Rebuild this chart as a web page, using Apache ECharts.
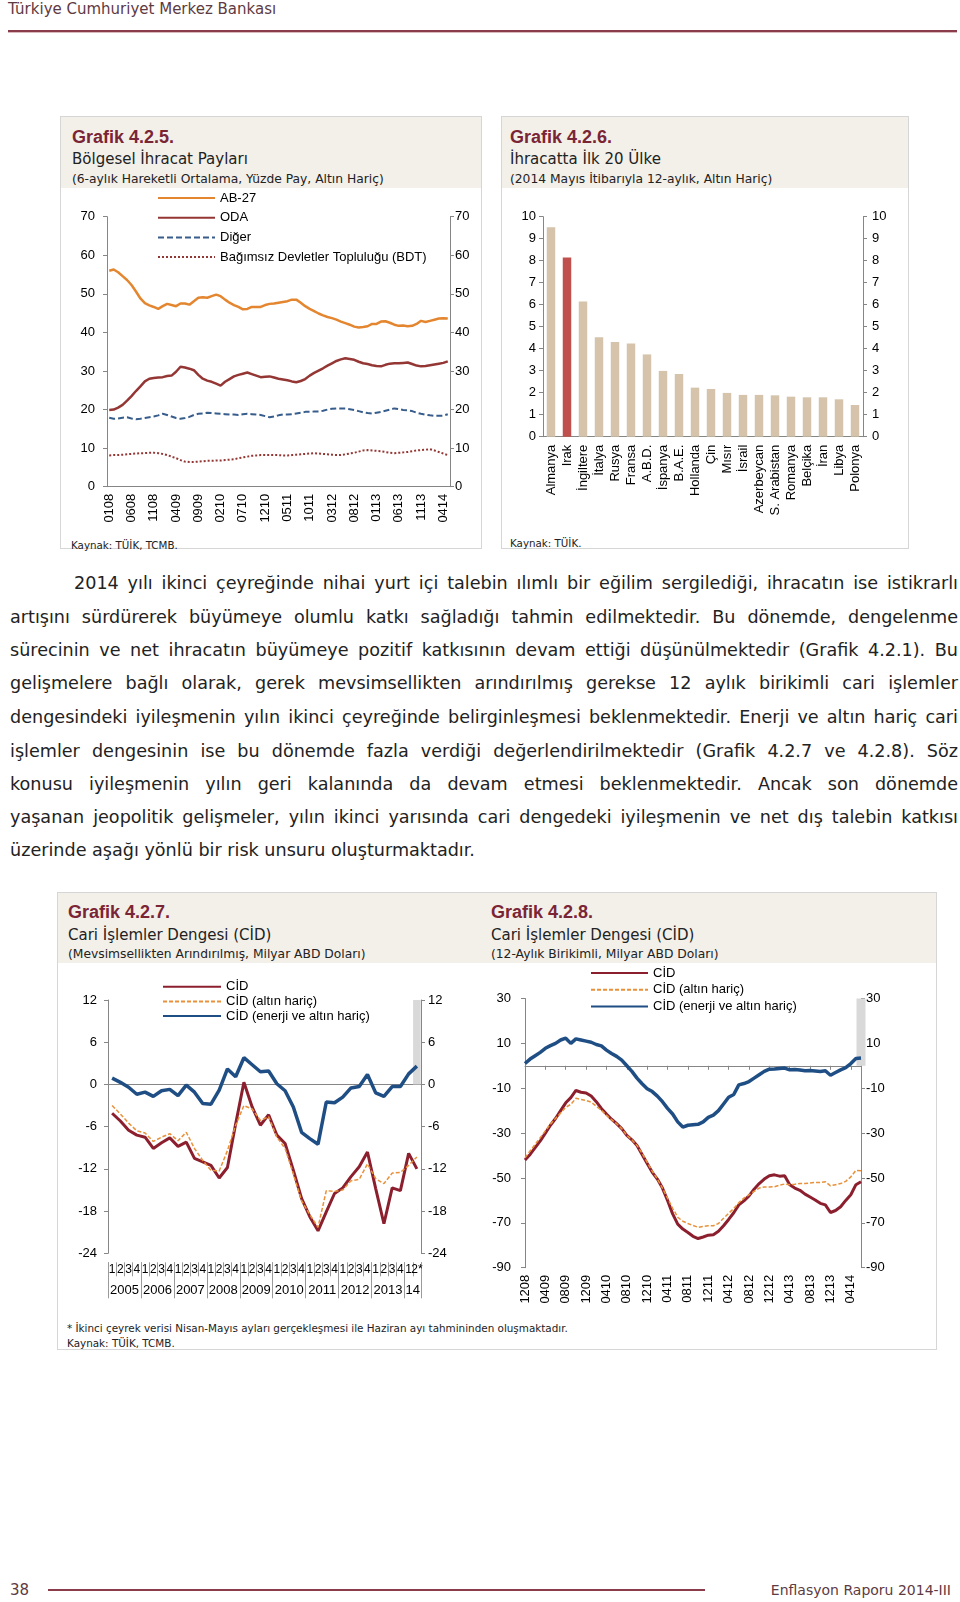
<!DOCTYPE html>
<html><head><meta charset="utf-8">
<script src="https://cdn.jsdelivr.net/npm/echarts@6/dist/echarts.min.js"></script>
<style>
html,body{margin:0;padding:0;background:#fff;}
#page{position:relative;width:960px;height:1602px;overflow:hidden;font-family:"DejaVu Sans",sans-serif;color:#222;}
.abs{position:absolute;white-space:nowrap;}
.box{position:absolute;border:1px solid #d6d6d6;box-sizing:border-box;}
.boxhead{position:absolute;left:0;top:0;right:0;background:#f3f0ea;}
.gt{font-family:"Liberation Sans",Arial,sans-serif;font-weight:bold;font-size:18px;color:#7a2535;line-height:22px;}
.st{font-size:15px;line-height:18px;color:#222;}
.sst{font-size:12.3px;line-height:16px;color:#222;}
.src{font-size:10.3px;line-height:14px;color:#222;}
.fn{font-size:10.4px;line-height:14px;color:#222;}
.para{position:absolute;font-size:17.6px;line-height:24px;color:#222;text-align:justify;text-align-last:justify;white-space:normal;}
.hdr{font-size:15px;line-height:18px;color:#5e3a42;}
#chart{position:absolute;left:0;top:0;width:960px;height:1602px;z-index:5;}
</style></head>
<body>
<div id="page">
  <div class="abs hdr" style="left:8px;top:0px;">Türkiye Cumhuriyet Merkez Bankası</div>
  <div class="abs" style="left:8px;top:30px;width:949px;height:2px;background:#8b3c4b;"></div>
  <div class="abs" style="left:8px;top:32px;width:949px;height:1px;background:#d9b9be;"></div>

  <div class="box" style="left:60px;top:116px;width:422px;height:433px;"><div class="boxhead" style="height:71px;"></div></div>
  <div class="box" style="left:501px;top:116px;width:408px;height:433px;"><div class="boxhead" style="height:71px;"></div></div>

  <div class="abs gt" style="left:72px;top:126px;">Grafik 4.2.5.</div>
  <div class="abs st" style="left:72px;top:150px;">Bölgesel İhracat Payları</div>
  <div class="abs sst" style="left:72px;top:171px;">(6-aylık Hareketli Ortalama, Yüzde Pay, Altın Hariç)</div>
  <div class="abs src" style="left:71px;top:538px;">Kaynak: TÜİK, TCMB.</div>

  <div class="abs gt" style="left:510px;top:126px;">Grafik 4.2.6.</div>
  <div class="abs st" style="left:510px;top:150px;">İhracatta İlk 20 Ülke</div>
  <div class="abs sst" style="left:510px;top:171px;">(2014 Mayıs İtibarıyla 12-aylık, Altın Hariç)</div>
  <div class="abs src" style="left:510px;top:536px;">Kaynak: TÜİK.</div>

  <div class="para" style="left:74px;top:571px;width:884px;">2014 yılı ikinci çeyreğinde nihai yurt içi talebin ılımlı bir eğilim sergilediği, ihracatın ise istikrarlı</div>
  <div class="para" style="left:10px;top:605px;width:948px;">artışını sürdürerek büyümeye olumlu katkı sağladığı tahmin edilmektedir. Bu dönemde, dengelenme</div>
  <div class="para" style="left:10px;top:638px;width:948px;">sürecinin ve net ihracatın büyümeye pozitif katkısının devam ettiği düşünülmektedir (Grafik 4.2.1). Bu</div>
  <div class="para" style="left:10px;top:671px;width:948px;">gelişmelere bağlı olarak, gerek mevsimsellikten arındırılmış gerekse 12 aylık birikimli cari işlemler</div>
  <div class="para" style="left:10px;top:705px;width:948px;">dengesindeki iyileşmenin yılın ikinci çeyreğinde belirginleşmesi beklenmektedir. Enerji ve altın hariç cari</div>
  <div class="para" style="left:10px;top:739px;width:948px;">işlemler dengesinin ise bu dönemde fazla verdiği değerlendirilmektedir (Grafik 4.2.7 ve 4.2.8). Söz</div>
  <div class="para" style="left:10px;top:772px;width:948px;">konusu iyileşmenin yılın geri kalanında da devam etmesi beklenmektedir. Ancak son dönemde</div>
  <div class="para" style="left:10px;top:805px;width:948px;">yaşanan jeopolitik gelişmeler, yılın ikinci yarısında cari dengedeki iyileşmenin ve net dış talebin katkısı</div>
  <div class="para" style="left:10px;top:838px;width:948px;text-align:left;text-align-last:left;">üzerinde aşağı yönlü bir risk unsuru oluşturmaktadır.</div>

  <div class="box" style="left:57px;top:892px;width:880px;height:458px;"><div class="boxhead" style="height:70px;"></div></div>
  <div class="abs gt" style="left:68px;top:901px;">Grafik 4.2.7.</div>
  <div class="abs st" style="left:68px;top:926px;">Cari İşlemler Dengesi (CİD)</div>
  <div class="abs sst" style="left:68px;top:946px;">(Mevsimsellikten Arındırılmış, Milyar ABD Doları)</div>
  <div class="abs gt" style="left:491px;top:901px;">Grafik 4.2.8.</div>
  <div class="abs st" style="left:491px;top:926px;">Cari İşlemler Dengesi (CİD)</div>
  <div class="abs sst" style="left:491px;top:946px;">(12-Aylık Birikimli, Milyar ABD Doları)</div>
  <div class="abs fn" style="left:67px;top:1321px;">* İkinci çeyrek verisi Nisan-Mayıs ayları gerçekleşmesi ile Haziran ayı tahmininden oluşmaktadır.</div>
  <div class="abs fn" style="left:67px;top:1336px;">Kaynak: TÜİK, TCMB.</div>

  <div class="abs hdr" style="left:10px;top:1581px;">38</div>
  <div class="abs" style="left:48px;top:1589px;width:657px;height:2px;background:#8b3c4b;"></div>
  <div class="abs hdr" style="right:9px;top:1581px;font-size:14px;">Enflasyon Raporu 2014-III</div>

  <div id="chart"></div>
</div>
<script>
// ---------- Grafik 4.2.5 ----------
const cat425 = "0108 0208 0308 0408 0508 0608 0708 0808 0908 1008 1108 1208 0109 0209 0309 0409 0509 0609 0709 0809 0909 1009 1109 1209 0110 0210 0310 0410 0510 0610 0710 0810 0910 1010 1110 1210 0111 0211 0311 0411 0511 0611 0711 0811 0911 1011 1111 1211 0112 0212 0312 0412 0512 0612 0712 0812 0912 1012 1112 1212 0113 0213 0313 0413 0513 0613 0713 0813 0913 1013 1113 1213 0114 0214 0314 0414 0514".split(" ");
const ab27 = [56.0,56.3,55.6,54.6,53.6,52.3,50.6,48.8,47.6,47.0,
46.6,46.1,46.8,47.4,47.1,46.8,47.5,47.5,47.2,48.1,
49.0,49.1,49.0,49.4,49.8,49.4,48.5,47.7,47.1,46.6,
46.0,46.1,46.6,46.6,46.6,47.1,47.4,47.5,47.7,47.9,
48.1,48.5,48.5,47.7,46.8,46.1,45.5,44.9,44.4,44.0,
43.7,43.3,42.8,42.4,42.0,41.5,41.3,41.4,41.6,42.2,
42.2,42.8,42.9,42.5,42.0,41.7,41.8,41.6,41.7,42.2,
43.0,42.7,43.0,43.3,43.6,43.7,43.6];
const oda = [19.9,20.0,20.5,21.2,22.3,23.5,24.8,26.0,27.3,28.0,
28.2,28.3,28.4,28.7,28.8,29.8,31.1,30.9,30.6,30.2,
29.0,28.0,27.5,27.2,26.7,26.2,27.2,27.9,28.6,29.0,
29.3,29.6,29.2,28.8,28.4,28.5,28.6,28.3,28.0,27.8,
27.6,27.3,27.1,27.4,27.9,28.8,29.5,30.1,30.7,31.4,
32.0,32.6,33.0,33.3,33.1,32.9,32.4,32.0,31.8,31.5,
31.3,31.2,31.6,31.9,32.0,32.0,32.1,32.2,31.8,31.4,
31.2,31.3,31.5,31.7,31.9,32.1,32.5];
const diger = [17.9,17.6,17.7,17.9,18.0,17.7,17.5,17.6,17.8,18.0,
18.2,18.5,18.9,18.6,18.2,17.8,17.6,17.8,18.1,18.6,
18.9,19.0,19.2,19.1,19.0,18.9,18.8,18.7,18.7,18.6,
18.8,18.9,18.8,18.7,18.6,18.3,18.0,18.2,18.5,18.7,
18.7,18.8,19.0,19.2,19.4,19.4,19.5,19.5,19.7,20.0,
20.2,20.3,20.3,20.3,20.1,19.9,19.6,19.3,19.1,19.0,
19.2,19.4,19.7,20.0,20.3,20.1,19.9,19.8,19.6,19.2,
18.9,18.7,18.5,18.4,18.4,18.4,18.8];
const bdt = [8.1,8.2,8.2,8.3,8.4,8.5,8.6,8.7,8.7,8.8,
8.8,8.7,8.5,8.2,7.8,7.4,6.9,6.5,6.4,6.4,
6.5,6.6,6.7,6.7,6.8,6.8,6.9,7.0,7.1,7.4,
7.6,7.8,8.0,8.1,8.2,8.2,8.2,8.2,8.2,8.1,
8.1,8.2,8.3,8.4,8.5,8.6,8.7,8.6,8.5,8.4,
8.3,8.2,8.2,8.4,8.6,8.8,9.1,9.4,9.5,9.4,
9.3,9.2,9.0,8.8,8.7,8.8,8.9,9.0,9.2,9.4,
9.5,9.6,9.7,9.4,9.0,8.6,8.2];
const names425 = ["AB-27","ODA","Diğer","Bağımsız Devletler Topluluğu (BDT)"];

// ---------- Grafik 4.2.6 ----------
const countries = ["Almanya","Irak","İngiltere","İtalya","Rusya","Fransa","A.B.D.","İspanya","B.A.E.","Hollanda","Çin","Mısır","İsrail","Azerbeycan","S. Arabistan","Romanya","Belçika","İran","Libya","Polonya"];
const exportShare = [9.52,8.15,6.14,4.52,4.30,4.24,3.74,2.99,2.85,2.23,2.17,1.99,1.90,1.90,1.88,1.82,1.79,1.79,1.70,1.44];
const highlighted = "Irak";

// ---------- Grafik 4.2.7 ----------
const quarters427 = "1 2 3 4 1 2 3 4 1 2 3 4 1 2 3 4 1 2 3 4 1 2 3 4 1 2 3 4 1 2 3 4 1 2 3 4 1 2*".split(" ");
const years427 = ["2005","2006","2007","2008","2009","2010","2011","2012","2013","14"];
const cid427 = [-4.1,-5.2,-6.5,-7.2,-7.5,-9.1,-8.3,-7.6,-8.8,-8.2,-10.5,-11.0,-11.5,-13.3,-11.8,-5.6,0.3,-3.2,-5.8,-4.3,-7.2,-8.4,-12.2,-16.2,-18.8,-20.8,-18.1,-15.5,-14.7,-13.1,-11.7,-9.6,-14.8,-19.8,-14.7,-15.1,-9.8,-12.0];
const cidAltin427 = [-3.0,-4.2,-5.5,-6.6,-6.9,-8.1,-7.5,-7.0,-8.0,-6.8,-9.1,-10.8,-12.2,-12.3,-9.4,-5.8,-3.0,-3.5,-5.1,-4.6,-7.5,-9.1,-12.7,-16.5,-18.5,-20.3,-15.1,-15.2,-15.0,-13.7,-13.5,-11.3,-13.4,-14.1,-12.6,-12.5,-11.5,-10.3];
const cidEnerji427 = [0.9,0.3,-0.4,-1.4,-1.1,-1.7,-0.9,-0.7,-1.6,-0.1,-1.1,-2.7,-2.8,-0.8,2.2,1.1,3.8,2.8,1.8,1.9,0.1,-0.9,-3.2,-6.8,-7.7,-8.5,-2.5,-2.6,-1.8,-0.5,-0.3,1.4,-1.2,-1.7,-0.3,-0.3,1.5,2.6];

// ---------- Grafik 4.2.8 ----------
const cat428 = "1208 0109 0209 0309 0409 0509 0609 0709 0809 0909 1009 1109 1209 0110 0210 0310 0410 0510 0610 0710 0810 0910 1010 1110 1210 0111 0211 0311 0411 0511 0611 0711 0811 0911 1011 1111 1211 0112 0212 0312 0412 0512 0612 0712 0812 0912 1012 1112 1212 0113 0213 0313 0413 0513 0613 0713 0813 0913 1013 1113 1213 0114 0214 0314 0414 0514 0614".split(" ");
const cid428 = [-42.0,-39.5,-36.5,-33.5,-30.0,-26.5,-23.5,-20.0,-16.5,-14.2,
-11.0,-11.8,-12.1,-13.5,-16.0,-19.0,-21.5,-23.8,-25.8,-28.0,
-31.0,-33.0,-35.5,-39.5,-43.5,-47.5,-50.5,-54.5,-60.0,-66.0,
-70.6,-72.8,-74.3,-76.0,-77.0,-76.3,-75.5,-75.3,-73.8,-71.3,
-68.5,-65.5,-62.0,-60.2,-58.0,-55.0,-52.5,-50.5,-49.0,-48.6,
-49.2,-49.0,-53.0,-54.5,-55.5,-57.2,-58.5,-59.8,-61.3,-62.0,
-65.4,-64.5,-62.8,-60.0,-57.5,-53.0,-51.7];
const cidAltin428 = [-41.0,-38.0,-35.0,-32.0,-29.0,-26.0,-23.5,-21.0,-18.5,-17.2,
-14.5,-15.0,-15.5,-16.2,-18.0,-19.8,-22.0,-24.0,-25.8,-28.0,
-31.0,-33.0,-35.5,-39.0,-43.0,-47.0,-50.5,-54.5,-59.0,-63.5,
-67.5,-69.3,-70.3,-71.2,-72.0,-71.6,-71.3,-71.3,-70.3,-68.0,
-65.8,-63.6,-61.0,-59.0,-57.5,-56.0,-54.5,-54.0,-54.0,-53.9,
-53.2,-52.7,-53.0,-52.8,-52.5,-52.5,-52.2,-52.0,-52.0,-51.7,
-53.5,-53.0,-52.5,-51.5,-49.5,-46.6,-46.8];
const cidEnerji428 = [1.0,3.0,4.5,6.0,7.8,9.0,10.0,11.5,12.3,10.0,
12.0,11.5,11.0,10.5,9.5,8.9,7.0,5.5,4.2,2.5,
0.0,-2.5,-5.5,-8.0,-10.2,-11.5,-13.5,-16.0,-19.0,-21.5,
-25.0,-27.3,-26.5,-26.3,-26.1,-25.0,-23.0,-22.0,-20.0,-17.0,
-14.0,-12.8,-8.5,-7.9,-7.0,-5.5,-4.0,-2.5,-1.5,-1.4,
-1.2,-1.0,-1.8,-1.7,-1.9,-2.2,-2.1,-2.3,-2.5,-2.2,
-4.2,-3.0,-1.8,-0.8,1.0,3.3,3.5];
const names42x = ["CİD","CİD (altın hariç)","CİD (enerji ve altın hariç)"];

// ---------- styles ----------
const FONT = "Liberation Sans";
const axisGray = "#868686";
const cMaroon = "#943634", cOrange = "#e4862f", cBlue = "#375d8c";
const cCid = "#8c1f2e", cCidAlt = "#e8913a", cCidEn = "#1f4e84";
const lbl = {color:"#000", fontFamily:FONT, fontSize:13};

function yAx(grid, pos, min, max, interval, margin){
  return {type:"value", gridIndex:grid, position:pos, min:min, max:max, interval:interval,
    splitLine:{show:false},
    axisLine:{show:true, onZero:false, lineStyle:{color:axisGray, width:1}},
    axisTick:{show:true, length:4, lineStyle:{color:axisGray}},
    axisLabel:Object.assign({}, lbl, {margin:margin})};
}
function line(name, data, xi, yi, color, width, type, z){
  return {type:"line", name:name, data:data, xAxisIndex:xi, yAxisIndex:yi, symbol:"none",
    lineStyle:{color:color, width:width, type:type||"solid"}, itemStyle:{color:color}, z:z||3, silent:true};
}
function legend(names, left, top, w, gap){
  return {data:names, orient:"vertical", left:left, top:top, itemWidth:w, itemHeight:14, itemGap:gap, padding:0,
    selectedMode:false, itemStyle:{opacity:0, color:"transparent", borderWidth:0},
    textStyle:{fontSize:13, color:"#000", fontFamily:FONT, lineHeight:14}};
}

// year groups for 4.2.7 derived from quarter labels
const yearStarts = [];
quarters427.forEach((q,i)=>{ if(q==="1") yearStarts.push(i); });
const yearBounds = yearStarts.concat([quarters427.length]);
const yearCenters = yearStarts.map((s,k)=>(s+yearBounds[k+1])/2);

const band427 = quarters427.map((q,i)=> i===quarters427.length-1 ? 12 : null);
const band428 = cat428.map((q,i)=> i===cat428.length-1 ? 30 : null);

const chart = echarts.init(document.getElementById("chart"), null, {renderer:"canvas"});
const option = {
  animation:false,
  backgroundColor:"transparent",
  textStyle:{fontFamily:FONT},
  grid:[
    {left:107, top:216.7, width:343, height:270, outerBoundsMode:"none"},
    {left:543, top:216.7, width:320, height:220, outerBoundsMode:"none"},
    {left:108, top:1000, width:313, height:253.3, outerBoundsMode:"none"},
    {left:525, top:998.5, width:336, height:269.2, outerBoundsMode:"none"}
  ],
  legend:[
    legend(names425, 157, 191, 57, 5.7),
    legend(names42x, 162, 979.7, 58, 0.7),
    legend(names42x, 590, 966, 57, 2.7)
  ],
  xAxis:[
    {type:"category", gridIndex:0, data:cat425, boundaryGap:true, position:"bottom",
     axisLine:{lineStyle:{color:axisGray}}, axisTick:{interval:4, length:4, lineStyle:{color:axisGray}},
     axisLabel:Object.assign({}, lbl, {interval:4, rotate:90, margin:7})},
    {type:"category", gridIndex:1, data:countries, boundaryGap:true, position:"bottom",
     axisLine:{lineStyle:{color:axisGray}}, axisTick:{interval:0, length:5, lineStyle:{color:axisGray}},
     axisLabel:Object.assign({}, lbl, {interval:0, rotate:90, margin:8})},
    {type:"category", gridIndex:2, data:quarters427, boundaryGap:true, position:"bottom",
     axisLine:{onZero:true, lineStyle:{color:axisGray}}, axisTick:{interval:0, length:4, lineStyle:{color:axisGray}},
     axisLabel:{show:false}},
    {type:"category", gridIndex:2, data:quarters427, boundaryGap:true, position:"bottom", offset:9,
     axisLine:{show:false, onZero:false}, axisTick:{show:true, interval:0, length:14, lineStyle:{color:"#9a9a9a"}},
     axisLabel:Object.assign({}, lbl, {interval:0, fontSize:12, margin:1})},
    {type:"value", gridIndex:2, min:0, max:quarters427.length, position:"bottom", offset:9,
     splitLine:{show:false}, axisLine:{show:false, onZero:false},
     axisTick:{show:true, customValues:yearBounds, length:36, lineStyle:{color:"#9a9a9a"}},
     axisLabel:Object.assign({}, lbl, {customValues:yearCenters, margin:22, fontSize:13,
       formatter:(v)=>{ const k = yearCenters.indexOf(v); return k>=0 ? years427[k] : ""; }})},
    {type:"category", gridIndex:3, data:cat428, boundaryGap:false, position:"bottom",
     axisLine:{onZero:true, lineStyle:{color:axisGray}}, axisTick:{interval:3, length:4, lineStyle:{color:axisGray}},
     axisLabel:{show:false}},
    {type:"category", gridIndex:3, data:cat428, boundaryGap:false, position:"bottom",
     axisLine:{show:false, onZero:false}, axisTick:{show:false},
     axisLabel:Object.assign({}, lbl, {interval:3, rotate:90, margin:7})}
  ],
  yAxis:[
    yAx(0,"left",0,70,10,12), yAx(0,"right",0,70,10,5),
    yAx(1,"left",0,10,1,7), yAx(1,"right",0,10,1,9),
    yAx(2,"left",-24,12,6,11), yAx(2,"right",-24,12,6,7),
    yAx(3,"left",-90,30,20,14), yAx(3,"right",-90,30,20,5)
  ],
  series:[
    line(names425[0], ab27, 0, 0, cOrange, 2.5),
    line(names425[1], oda, 0, 0, cMaroon, 2.5),
    line(names425[2], diger, 0, 0, cBlue, 2, [6,3]),
    line(names425[3], bdt, 0, 0, cMaroon, 2, [2,2]),
    {type:"bar", xAxisIndex:1, yAxisIndex:2, barWidth:"53%", silent:true,
     data:exportShare.map((v,i)=>({value:v, itemStyle:{color: countries[i]===highlighted ? "#c0504d" : "#d5c3ab"}}))},
    {type:"bar", name:"tahmin427", xAxisIndex:2, yAxisIndex:4, data:band427, barWidth:"92%", silent:true,
     itemStyle:{color:"#d9d9d9"}, z:1},
    line(names42x[0], cid427, 2, 4, cCid, 3),
    line(names42x[1], cidAltin427, 2, 4, cCidAlt, 1.5, [4,2]),
    line(names42x[2], cidEnerji427, 2, 4, cCidEn, 3.5),
    {type:"bar", name:"tahmin428", xAxisIndex:5, yAxisIndex:6, data:band428, barWidth:9, silent:true,
     itemStyle:{color:"#d9d9d9"}, z:1},
    line(names42x[0], cid428, 5, 6, cCid, 3),
    line(names42x[1], cidAltin428, 5, 6, cCidAlt, 1.5, [4,2]),
    line(names42x[2], cidEnerji428, 5, 6, cCidEn, 3.5)
  ]
};
chart.setOption(option);
</script>
</body></html>
